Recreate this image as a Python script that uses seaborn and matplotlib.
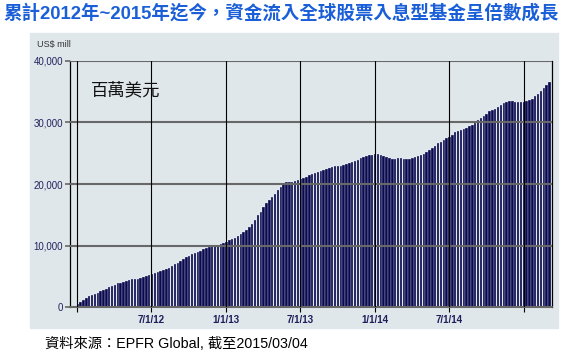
import numpy as np
import pandas as pd
import matplotlib
matplotlib.use("Agg")
import matplotlib.pyplot as plt
import matplotlib.dates as mdates
from matplotlib.patches import Rectangle
from matplotlib.ticker import FuncFormatter
import seaborn as sns

# ===== data: cumulative weekly inflows, US$ mill =====
week_start = "2012-01-04"
week_end = "2015-03-04"
cum_flow = [
    450, 750, 1150, 1450, 1800, 2000, 2150, 2300, 2550, 2750,
    3000, 3300, 3450, 3650, 3850, 3900, 4050, 4150, 4350, 4500,
    4550, 4600, 4700, 4900, 5050, 5200,
    5350, 5500, 5650, 5800, 5950, 6150, 6400, 6650, 6950, 7200,
    7500, 7800, 8100, 8350, 8550, 8750, 8950, 9150, 9350, 9550,
    9700, 9850, 9950, 10050, 10200, 10400,
    10600, 10850, 11100, 11300, 11550, 11850, 12150, 12550, 13000, 13550,
    14100, 14900,
    15500, 16200, 16850, 17350, 17850, 18400, 19000, 19550, 20000, 20250,
    20300, 20350, 20450, 20650,
    20850, 21050, 21200, 21400, 21600, 21750, 21900, 22050, 22200, 22400,
    22550, 22750, 22850, 22950, 23000, 23150, 23300, 23450, 23600, 23800,
    23950, 24150,
    24400, 24550, 24650, 24750, 24850, 24800, 24700, 24550, 24350, 24150,
    24050, 24000, 24150, 24200, 24100, 24050, 24100, 24200, 24350, 24550,
    24750, 24950, 25200, 25500, 25800, 26200, 26600, 26900, 27150, 27400,
    27650, 28000, 28450, 28650, 28850, 28950, 29150, 29350, 29600, 29950,
    30350, 30750, 31100, 31450, 31800, 32050, 32250, 32550, 32900, 33200,
    33400, 33550, 33450, 33350, 33350, 33400, 33350, 33500, 33650, 33900,
    34250, 34600, 35100, 35600, 36100, 36600,
]
grid_dates = ["2012-01-01", "2012-07-01", "2013-01-01", "2013-07-01",
              "2014-01-01", "2014-07-01", "2015-01-01"]
grid_labels = ["", "7/1/12", "1/1/13", "7/1/13", "1/1/14", "7/1/14", ""]
y_ticks = [0, 10000, 20000, 30000, 40000]

title = "累計2012年~2015年迄今，資金流入全球股票入息型基金呈倍數成長"
unit_label = "百萬美元"
source = "資料來源：EPFR Global, 截至2015/03/04"

weeks = pd.date_range(week_start, week_end, freq="7D")
df = pd.DataFrame({"x": mdates.date2num(weeks), "flow": cum_flow})

# ===== style =====
sns.set_style("white")
plt.rcParams["font.family"] = ["Liberation Sans", "Noto Sans CJK TC", "DejaVu Sans"]

W, H = 564, 356
fig = plt.figure(figsize=(W / 100, H / 100), dpi=100, facecolor="white")
panel_c = "#dfe7eb"
fig.patches.append(Rectangle((30 / W, 1 - 328 / H), (558 - 30) / W, (328 - 33) / H,
                             transform=fig.transFigure, color=panel_c, zorder=-10))

ax = fig.add_axes([70 / W, 1 - 307 / H, (552 - 70) / W, (307 - 61) / H])
ax.set_facecolor(panel_c)

sns.barplot(data=df, x="x", y="flow", native_scale=True, errorbar=None, width=0.85,
            color="#09094f", saturation=1, edgecolor="#f4f6f8", linewidth=0.2,
            ax=ax, zorder=2)

ax.set_xlim(mdates.date2num(pd.Timestamp("2011-12-16")),
            mdates.date2num(pd.Timestamp("2015-03-10")))
ax.set_ylim(0, 40000)

# grid lines drawn over the bars
for v in y_ticks[1:]:
    ax.axhline(v, color="#686868", lw=1.5, zorder=3)
ax.axhline(0, color="#686868", lw=1.5, zorder=3, clip_on=False)
gx = mdates.date2num(pd.to_datetime(grid_dates))
for g in gx:
    ax.axvline(g, color="black", lw=0.8, zorder=3)

ax.set_xticks(gx)
ax.set_xticklabels(grid_labels)
ax.set_yticks(y_ticks)
ax.yaxis.set_major_formatter(FuncFormatter(lambda v, p: f"{int(v):,}"))
ax.tick_params(axis="x", length=3.5, width=0.8, color="black", pad=2,
               labelsize=7, labelcolor="#1e1e5a", bottom=True)
for t in ax.get_xticklabels():
    t.set_fontweight("bold")
ax.tick_params(axis="y", length=3.5, width=1.2, color="#686868", pad=1.5,
               labelsize=7, labelcolor="#22225e", left=True)
ax.set_xlabel("")
ax.set_ylabel("")

for side in ["top", "bottom"]:
    ax.spines[side].set_visible(False)
ax.spines["left"].set_color("black")
ax.spines["left"].set_linewidth(0.9)
ax.spines["right"].set_color("black")
ax.spines["right"].set_linewidth(0.9)

ax.text(91 / W, 1 - 90 / H, unit_label, transform=fig.transFigure,
        fontsize=12.5, color="#111111", va="center", ha="left")
fig.text(37 / W, 1 - 45 / H, "US$ mill", fontsize=6.5, color="#333333",
         va="center", ha="left")
fig.text(3 / W, 1 - 13 / H, title, fontsize=13.3, fontweight="bold",
         color="#1a5fd8", va="center", ha="left")
fig.text(45 / W, 1 - 344 / H, source, fontsize=10.3, color="black",
         va="center", ha="left")

fig.savefig("out.png", dpi=100, facecolor="white")
